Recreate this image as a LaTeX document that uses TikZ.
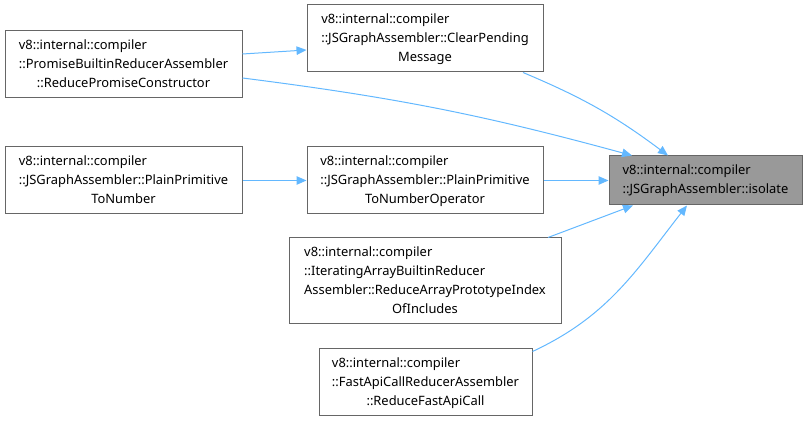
\documentclass[tikz,border=0pt]{standalone}
\usepackage{fontspec}
\setmainfont{Noto Sans}
\usetikzlibrary{arrows.meta}
\definecolor{cgedge}{HTML}{63B8FF}
\definecolor{cgline}{HTML}{666666}
\definecolor{cgfocus}{HTML}{999999}
\newcommand{\lastline}[1]{\multicolumn{1}{@{}c@{}}{#1}}
\tikzset{
  callBox/.style={draw=cgline, fill=white, line width=1pt, inner sep=0pt,
    font=\fontsize{12.9}{19}\selectfont},
  focusBox/.style={callBox, fill=cgfocus},
  callArrow/.style={-{Triangle[length=10pt,width=8.5pt]}, line width=1pt, draw=cgedge}
}

\begin{document}
\begin{tikzpicture}[x=1pt,y=1pt]
  \useasboundingbox (0,0) rectangle (808,422);
  \node[callBox, minimum width=237pt, minimum height=67pt] (promise) at (123.5,357.5)
    {\begin{tabular}{@{}l@{}}v8::internal::compiler\\::PromiseBuiltinReducerAssembler\\\lastline{::ReducePromiseConstructor}\end{tabular}};
  \node[callBox, minimum width=236pt, minimum height=67pt] (clear) at (425,383.5)
    {\begin{tabular}{@{}l@{}}v8::internal::compiler\\::JSGraphAssembler::ClearPending\\\lastline{Message}\end{tabular}};
  \node[callBox, minimum width=237pt, minimum height=67pt] (plain) at (123.5,241.5)
    {\begin{tabular}{@{}l@{}}v8::internal::compiler\\::JSGraphAssembler::PlainPrimitive\\\lastline{ToNumber}\end{tabular}};
  \node[callBox, minimum width=236pt, minimum height=67pt] (plainop) at (425,241.5)
    {\begin{tabular}{@{}l@{}}v8::internal::compiler\\::JSGraphAssembler::PlainPrimitive\\\lastline{ToNumberOperator}\end{tabular}};
  \node[callBox, minimum width=272pt, minimum height=86pt] (indexof) at (425,141)
    {\begin{tabular}{@{}l@{}}v8::internal::compiler\\::IteratingArrayBuiltinReducer\\Assembler::ReduceArrayPrototypeIndex\\\lastline{OfIncludes}\end{tabular}};
  \node[callBox, minimum width=213pt, minimum height=67pt] (fastapi) at (425.5,39.5)
    {\begin{tabular}{@{}l@{}}v8::internal::compiler\\::FastApiCallReducerAssembler\\\lastline{::ReduceFastApiCall}\end{tabular}};
  \node[focusBox, minimum width=193pt, minimum height=49pt] (isolate) at (705.5,241.5)
    {\begin{tabular}{@{}l@{}}v8::internal::compiler\\::JSGraphAssembler::isolate\end{tabular}};

  \draw[callArrow] ([yshift=10.5pt]promise.east) -- ([yshift=-11.5pt]clear.west);
  \draw[callArrow] ([yshift=-13.5pt]promise.east) to[bend left=4] ([xshift=-73.5pt]isolate.north);
  \draw[callArrow] ([xshift=98pt]clear.south) to[bend left=7] ([xshift=-37.5pt]isolate.north);
  \draw[callArrow] (plain.east) -- (plainop.west);
  \draw[callArrow] (plainop.east) -- (isolate.west);
  \draw[callArrow] ([xshift=123pt]indexof.north) -- ([xshift=-72.5pt]isolate.south);
  \draw[callArrow] ([yshift=-3pt]fastapi.north east) to[out=25,in=-128] ([xshift=-18.5pt]isolate.south);
\end{tikzpicture}
\end{document}
